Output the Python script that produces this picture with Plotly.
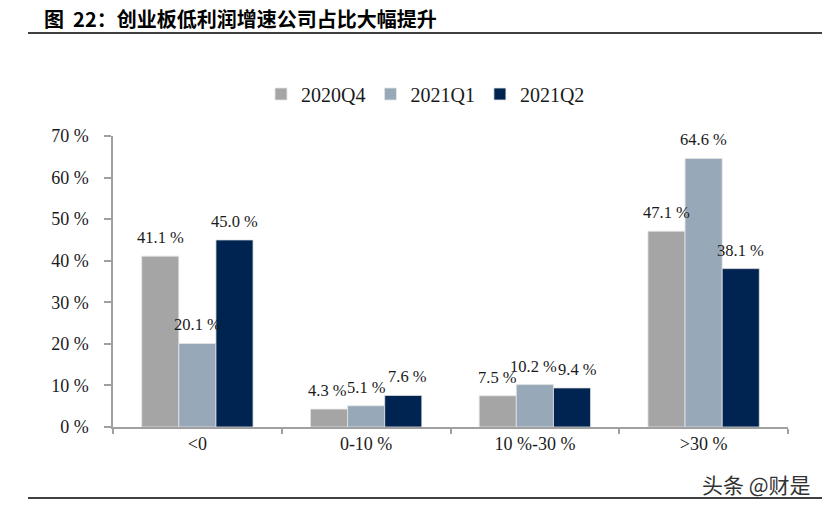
import plotly.graph_objects as go

categories = ["<0", "0-10 %", "10 %-30 %", ">30 %"]
series_names = ["2020Q4", "2021Q1", "2021Q2"]
q4_2020 = [41.1, 4.3, 7.5, 47.1]
q1_2021 = [20.1, 5.1, 10.2, 64.6]
q2_2021 = [45.0, 7.6, 9.4, 38.1]
series_values = [q4_2020, q1_2021, q2_2021]
colors = ["#A5A5A5", "#97A8B8", "#002451"]
y_tick_vals = [0, 10, 20, 30, 40, 50, 60, 70]
y_tick_text = [f"{v} %" for v in y_tick_vals]

W, H = 830, 509
PLOT_L, PLOT_R, PLOT_T, PLOT_B = 113, 788, 136, 427  # page pixels
ML, MR, MT, MB = PLOT_L, W - PLOT_R, PLOT_T, H - PLOT_B
PW = PLOT_R - PLOT_L
PH = PLOT_B - PLOT_T
BARGAP = 0.34

# label nudges (pixels) to keep crowded labels apart, as in the reference
LABEL_NUDGE = {(2, 1): 4, (2, 2): 5, (1, 2): -1, (0, 1): -2}


def px_x(p):
    return (p - PLOT_L) / PW


def px_y(p):
    return (PLOT_B - p) / PH


serif = "Liberation Serif, DejaVu Serif, serif"

fig = go.Figure()
for name, vals, col in zip(series_names, series_values, colors):
    fig.add_trace(go.Bar(
        x=categories, y=vals, name=name,
        marker=dict(color=col, line=dict(color="#E6E6E6", width=0.8)),
    ))

# data labels
cat_w = PW / len(categories)
bar_w = cat_w * (1 - BARGAP) / len(series_names)
annotations = []
for i, vals in enumerate(series_values):
    for j, (c, v) in enumerate(zip(categories, vals)):
        annotations.append(dict(
            x=c, y=v, xref="x", yref="y", text=f"{v:.1f} %",
            showarrow=False, xanchor="center", yanchor="bottom",
            xshift=(i - 1) * bar_w + LABEL_NUDGE.get((i, j), 0), yshift=7,
            font=dict(family=serif, size=16.5, color="#1a1a1a"),
        ))

annotations.append(dict(
    x=px_x(42), y=px_y(18), xref="paper", yref="paper",
    text="<b>图  22：创业板低利润增速公司占比大幅提升</b>",
    showarrow=False, xanchor="left", yanchor="middle",
    font=dict(family="Noto Sans CJK SC", size=20, color="#000000"),
))
annotations.append(dict(
    x=px_x(813), y=px_y(484), xref="paper", yref="paper",
    text="头条 @财是", showarrow=False, xanchor="right", yanchor="middle",
    font=dict(family="Noto Sans CJK SC", size=21, color="#333333"),
))

shapes = [
    dict(type="line", xref="paper", yref="paper", x0=px_x(28), x1=px_x(822),
         y0=px_y(33), y1=px_y(33), line=dict(color="#000000", width=1.5)),
    dict(type="line", xref="paper", yref="paper", x0=px_x(28), x1=px_x(822),
         y0=px_y(498), y1=px_y(498), line=dict(color="#000000", width=1.5)),
]

fig.update_layout(
    width=W, height=H,
    margin=dict(l=ML, r=MR, t=MT, b=MB, autoexpand=False),
    paper_bgcolor="white", plot_bgcolor="white",
    barmode="group", bargap=BARGAP, bargroupgap=0,
    showlegend=True,
    legend=dict(orientation="h", x=px_x(261), xanchor="left",
                y=px_y(94), yanchor="middle",
                font=dict(family=serif, size=20, color="#1a1a1a"),
                traceorder="normal", itemclick=False),
    annotations=annotations,
    shapes=shapes,
    xaxis=dict(
        type="category", showline=True, linecolor="#A0A0A0", linewidth=1.5,
        ticks="outside", tickson="boundaries", ticklen=5, tickcolor="#A0A0A0",
        tickwidth=1.5, showgrid=False,
        tickfont=dict(family=serif, size=18, color="#1a1a1a"),
    ),
    yaxis=dict(
        range=[0, 70], tickvals=y_tick_vals, ticktext=y_tick_text,
        showline=True, linecolor="#A0A0A0", linewidth=1.5,
        ticks="outside", ticklen=7, tickcolor="#A0A0A0", tickwidth=1.5,
        showgrid=False, zeroline=False, ticklabelstandoff=12,
        tickfont=dict(family=serif, size=18, color="#1a1a1a"),
    ),
)

# remove the browser's default body margin so the figure fills the window
fig.write_html("out.html", config={"displayModeBar": False},
               post_script="document.body.style.margin='0';document.body.style.overflow='hidden';")
